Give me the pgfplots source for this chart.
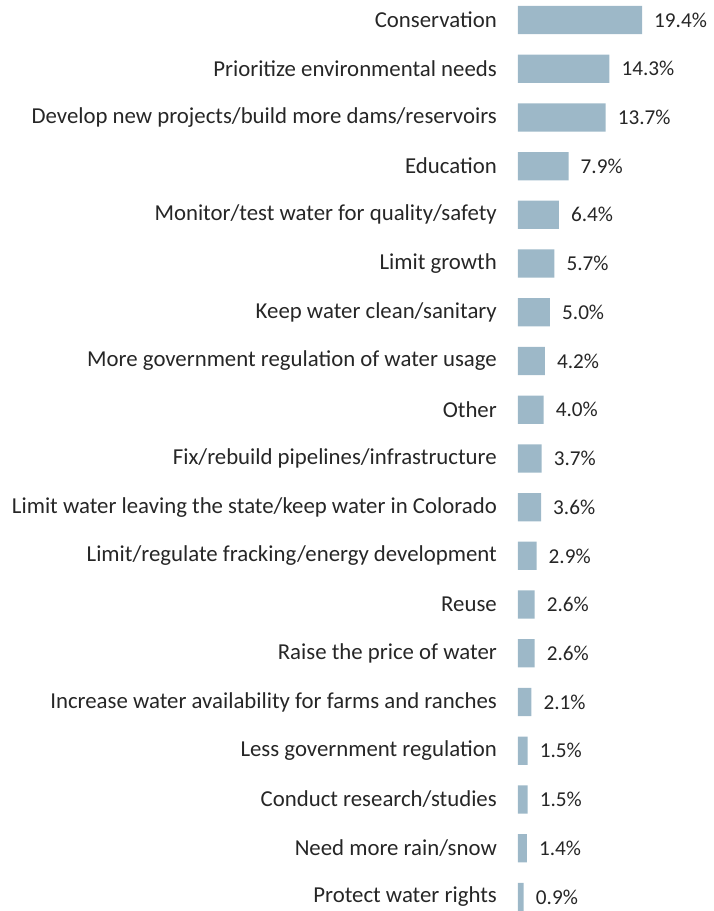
\documentclass[border=0pt]{standalone}
\usepackage{pgfplots}
\pgfplotsset{compat=1.18}
\usepackage{fontspec}
\setmainfont{Carlito}
\definecolor{barc}{HTML}{9DB8C8}
\definecolor{txt}{HTML}{262626}
\begin{document}
\begin{tikzpicture}
\begin{axis}[
  xbar,
  scale only axis,
  width=195pt, height=911pt,
  xmin=0, xmax=30.5,
  ymin=-0.41, ymax=18.29,
  y dir=reverse,
  bar width=0.58,
  axis line style={draw=none},
  xtick=\empty,
  ytick={0,...,18},
  yticklabels={Conservation,Prioritize environmental needs,Develop new projects/build more dams/reservoirs,Education,Monitor/test water for quality/safety,Limit growth,Keep water clean/sanitary,More government regulation of water usage,Other,Fix/rebuild pipelines/infrastructure,Limit water leaving the state/keep water in Colorado,Limit/regulate fracking/energy development,Reuse,Raise the price of water,Increase water availability for farms and ranches,Less government regulation,Conduct research/studies,Need more rain/snow,Protect water rights},
  major tick length=0pt,
  ytick style={draw=none},
  yticklabel style={inner sep=0pt, font=\fontsize{22.8}{26}\selectfont, text=txt, xshift=-21pt},
  nodes near coords={\pgfmathprintnumber[fixed,fixed zerofill,precision=1,assume math mode=true]{\pgfplotspointmeta}\%},
  nodes near coords style={anchor=west, inner sep=0pt, xshift=12pt, font=\fontsize{21.2}{25}\selectfont, text=txt},
  clip=false,
]
\addplot[fill=barc, draw=none] coordinates {
(19.4,0) (14.3,1) (13.7,2) (7.9,3) (6.4,4) (5.7,5) (5.0,6) (4.2,7) (4.0,8) (3.7,9) (3.6,10) (2.9,11) (2.6,12) (2.6,13) (2.1,14) (1.5,15) (1.5,16) (1.4,17) (0.9,18)
};
\end{axis}
\path ([xshift=-12pt]current bounding box.west);
\end{tikzpicture}
\end{document}
